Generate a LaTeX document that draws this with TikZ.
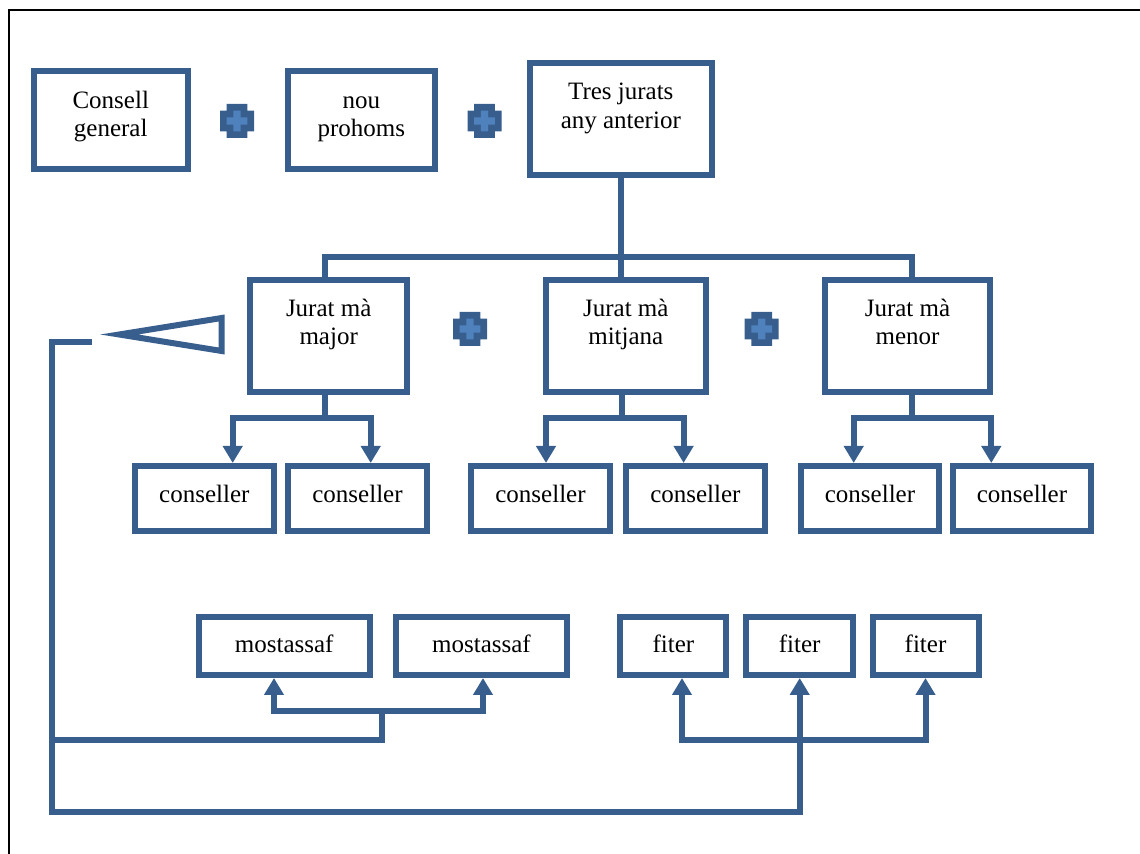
\documentclass[tikz,border=0pt]{standalone}
\usepackage{fontspec}
\setmainfont{Liberation Serif}
\usetikzlibrary{arrows.meta, positioning, shapes.geometric}
\definecolor{jblue}{RGB}{56,94,141}
\definecolor{jlight}{RGB}{79,129,189}

\begin{document}
\begin{tikzpicture}[
		x=0.5pt, y=-0.5pt,
		box/.style={draw=jblue, line width=3pt, align=center, inner sep=0pt, outer sep=0pt, font=\fontsize{12.5}{14.2}\selectfont},
		topbox/.style={box, minimum height=48.75pt, text height=16.45pt, text depth=0pt},
		jurbox/.style={box, minimum height=56pt, text height=9pt, text depth=0pt},
		conbox/.style={box, minimum width=69.35pt, minimum height=32.5pt, text height=6.2pt, text depth=2pt},
		offbox/.style={box, minimum height=29pt, text height=7pt, text depth=0.3pt},
		plussign/.style={inner sep=0pt, minimum size=17pt, path picture={
				\fill[jblue] (path picture bounding box.center) +(-5.2pt,-8.5pt) rectangle +(5.2pt,8.5pt)
				(path picture bounding box.center) +(-8.5pt,-5.2pt) rectangle +(8.5pt,5.2pt);
				\fill[jlight] (path picture bounding box.center) +(-1.8pt,-5.2pt) rectangle +(1.8pt,5.2pt)
				(path picture bounding box.center) +(-5.2pt,-1.8pt) rectangle +(5.2pt,1.8pt);}},
		tri/.style={draw=jblue, line width=3pt, isosceles triangle, isosceles triangle stretches, shape border rotate=180, minimum height=51.25pt, minimum width=16.5pt, inner sep=0pt, outer sep=0pt, anchor=apex},
		link/.style={draw=jblue, line width=3pt},
		arrow/.style={link, -{Triangle[length=8.5pt, width=9.5pt]}, shorten >=1.5pt},
		outerframe/.style={draw=black, line width=1pt}
		]
		\useasboundingbox (0,0) rectangle (1140,854);
		\draw[outerframe] (8.5,854) -- (8.5,10) -- (1140,10);
		
		% Top row
		\node[topbox, minimum width=76.75pt] (cg) at (110.75,120.25) {Consell\\general};
		\node[plussign] (p1) at (237,121) {};
		\node[topbox, minimum width=73.25pt] (np) at (361.25,120.25) {nou\\prohoms};
		\node[plussign] (p2) at (484.5,121) {};
		\node[box, minimum width=90.85pt, minimum height=56.15pt, text height=9.5pt, text depth=0pt] (tres) at (620.8,118.8) {Tres jurats\\any anterior};
		
		% Jurats
		\node[jurbox, minimum width=78.35pt] (jm1) at (328.7,336) {Jurat mà\\major};
		\node[plussign] (p3) at (470,329) {};
		\node[jurbox, minimum width=80.15pt] (jm2) at (625.8,336) {Jurat mà\\mitjana};
		\node[plussign] (p4) at (761.7,329) {};
		\node[jurbox, minimum width=82.2pt] (jm3) at (907.5,336) {Jurat mà\\menor};
		
		% Consellers
		\node[conbox] (c1) at (204.3,498.5) {conseller};
		\node[conbox] (c2) at (357.5,498.5) {conseller};
		\node[conbox] (c3) at (540.5,498.5) {conseller};
		\node[conbox] (c4) at (695.4,498.5) {conseller};
		\node[conbox] (c5) at (870,498.5) {conseller};
		\node[conbox] (c6) at (1022,498.5) {conseller};
		
		% Mostassafs and fiters
		\node[offbox, minimum width=85.5pt] (m1) at (284.2,646) {mostassaf};
		\node[offbox, minimum width=85.5pt] (m2) at (481.5,646) {mostassaf};
		\node[offbox, minimum width=53pt] (f1) at (673.4,646) {fiter};
		\node[offbox, minimum width=53.3pt] (f2) at (799.7,646) {fiter};
		\node[offbox, minimum width=53pt] (f3) at (925.5,646) {fiter};
		
		% Return triangle
		\node[tri] (tri) at (119.2,334.5) {};
		
		% Tres jurats to jurats
		\coordinate (hub) at (620.8,256.7);
		\draw[link] (tres.south) -- (hub);
		\draw[link] (hub) -- (hub |- jm2.north);
		\coordinate (b1) at (325,418);
		\coordinate (b2) at (621.6,418);
		\coordinate (b3) at (912.2,418);
		\draw[link] (hub) -| (b1 |- jm1.north);
		\draw[link] (hub) -| (b3 |- jm3.north);
		
		% Jurats to consellers
		\draw[link] (b1 |- jm1.south) -- (b1);
		\draw[arrow] (b1) -| ([xshift=14.2pt]c1.north);
		\draw[arrow] (b1) -| ([xshift=6.6pt]c2.north);
		\draw[link] (b2 |- jm2.south) -- (b2);
		\draw[arrow] (b2) -| ([xshift=2.75pt]c3.north);
		\draw[arrow] (b2) -| ([xshift=-5.9pt]c4.north);
		\draw[link] (b3 |- jm3.south) -- (b3);
		\draw[arrow] (b3) -| ([xshift=-8.15pt]c5.north);
		\draw[arrow] (b3) -| ([xshift=-15.35pt]c6.north);
		
		% Loop to mostassafs and fiters
		\coordinate (mb) at (382.2,710.7);
		\coordinate (fb) at (799.4,739.5);
		\coordinate (low) at (52,811.7);
		\draw[arrow] (mb) -| ([xshift=-5.1pt]m1.south);
		\draw[arrow] (mb) -| ([xshift=0.75pt]m2.south);
		\draw[link] (mb) |- (fb -| low);
		\draw[arrow] (fb) -| ([xshift=4.3pt]f1.south);
		\draw[arrow] (fb) -| (f3.south);
		\draw[arrow] ([xshift=-13.75pt,yshift=-3.6pt]tri.apex) -| (low) -| (f2.south);
		
	\end{tikzpicture}
\end{document}
